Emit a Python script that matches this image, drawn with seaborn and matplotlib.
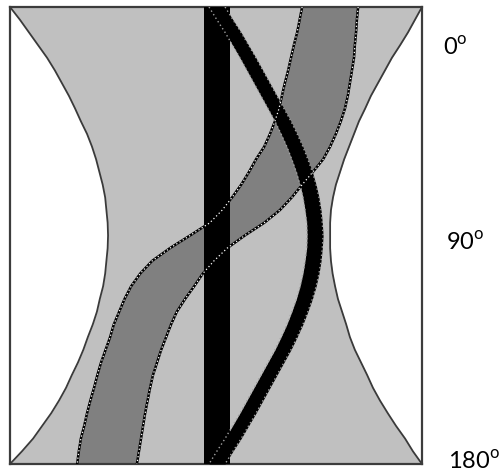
import matplotlib
matplotlib.use("Agg")
import matplotlib.pyplot as plt
import seaborn as sns

angle = [0, 5, 10, 15, 20, 25, 30, 35, 40, 45, 50, 55, 60, 65, 70, 75, 80, 85, 90,
         95, 100, 105, 110, 115, 120, 125, 130, 135, 140, 145, 150, 155, 160, 165,
         170, 175, 180]

# light grey hourglass: left and right boundary (0-100 across the box)
hourglass_left = [0.0, 2.4, 4.6, 6.8, 9.0, 10.9, 12.6, 14.3, 15.8, 17.2, 18.7, 19.9,
                  20.9, 21.7, 22.5, 23.1, 23.4, 23.7, 23.8, 23.7, 23.4, 23.1, 22.6,
                  21.8, 21.1, 20.1, 18.9, 17.8, 16.5, 15.0, 13.6, 11.9, 10.0, 7.8,
                  5.6, 2.9, 0.0]
hourglass_right = [100, 98.3, 96.6, 94.7, 92.7, 91.0, 89.3, 87.6, 86.2, 84.7, 83.5,
                   82.3, 81.1, 80.1, 79.1, 78.4, 77.9, 77.7, 77.7, 77.7, 77.9, 78.3,
                   78.9, 79.6, 80.6, 81.6, 82.5, 83.7, 85.2, 86.7, 88.1, 89.8, 91.7,
                   93.7, 95.9, 97.8, 100]

# black wave
wave_left = [48.3, 50.2, 52.2, 54.0, 55.8, 57.5, 59.2, 60.9, 62.6, 64.3, 65.8, 67.2,
             68.4, 69.5, 70.4, 71.1, 71.6, 72.0, 72.1, 72.0, 71.6, 71.1, 70.4, 69.5,
             68.4, 67.2, 65.8, 64.3, 62.6, 60.9, 59.2, 57.5, 55.8, 54.0, 52.2, 50.2,
             48.3]
wave_right = [52.2, 54.1, 56.1, 57.9, 59.7, 61.4, 63.1, 64.8, 66.5, 68.2, 69.7, 71.1,
              72.3, 73.4, 74.3, 75.0, 75.5, 75.8, 76.0, 75.8, 75.5, 75.0, 74.3, 73.4,
              72.3, 71.1, 69.7, 68.2, 66.5, 64.8, 63.1, 61.4, 59.7, 57.9, 56.1, 54.1,
              52.2]

# dark grey S band
band_left = [70.9, 70.3, 69.7, 68.9, 68.2, 67.5, 66.7, 66.0, 65.3, 64.3, 63.1, 61.7,
             59.7, 58.0, 56.1, 53.9, 51.5, 48.5, 43.7, 38.8, 34.5, 31.6, 29.4, 27.8,
             26.5, 25.2, 24.3, 23.2, 22.1, 21.2, 20.4, 19.5, 18.7, 18.0, 17.2, 16.7,
             16.3]
band_right = [84.5, 84.2, 84.0, 83.7, 83.5, 83.0, 82.5, 82.0, 81.3, 80.3, 79.1, 77.7,
              76.0, 73.5, 70.9, 68.4, 65.5, 61.7, 57.0, 52.7, 49.5, 46.8, 44.7, 42.5,
              40.5, 39.1, 37.9, 36.7, 35.7, 34.7, 34.0, 33.4, 32.8, 32.3, 31.8, 31.3,
              30.8]

# black vertical column
column = (47.1, 53.4)

labels = ["0", "90", "180"]

sns.set_style("white")
plt.rcParams["font.family"] = ["Lato", "DejaVu Sans"]
plt.rcParams["mathtext.fontset"] = "custom"
plt.rcParams["mathtext.rm"] = "Lato"

fig = plt.figure(figsize=(5.02, 4.74), dpi=100)
ax = fig.add_axes([10 / 502, 10 / 474, 412 / 502, 457 / 474])

ax.fill_betweenx(angle, hourglass_left, hourglass_right, color="#c0c0c0", lw=0, zorder=1)
ax.fill_betweenx(angle, band_left, band_right, color="#808080", lw=0, zorder=2)
ax.axvspan(*column, color="black", lw=0, zorder=3)
ax.fill_betweenx(angle, wave_left, wave_right, color="black", lw=0, zorder=4)

for xs in (hourglass_left, hourglass_right):
    sns.lineplot(x=xs, y=angle, orient="y", sort=False, estimator=None,
                 color="#3a3a3a", lw=1.3, ax=ax, zorder=5)

for xs in (band_left, band_right):
    sns.lineplot(x=xs, y=angle, orient="y", sort=False, estimator=None,
                 color="black", lw=1.8, ax=ax, zorder=6)
    sns.lineplot(x=xs, y=angle, orient="y", sort=False, estimator=None,
                 color="white", lw=0.9, linestyle=(0, (1, 2)), ax=ax, zorder=7)

for xs in (wave_left, wave_right):
    sns.lineplot(x=xs, y=angle, orient="y", sort=False, estimator=None,
                 color="#a0a0a0", lw=1.0, linestyle=(0, (1, 2)), ax=ax, zorder=7)

ax.set_xlim(0, 100)
ax.set_ylim(180, 0)
ax.set(xlabel="", ylabel="", xticks=[], yticks=[])
for s in ax.spines.values():
    s.set_visible(True)
    s.set_color("#3c3c3c")
    s.set_linewidth(1.6)

for lab, xpos, ypos in zip(labels, [1.051, 1.058, 1.062], [16, 93, 179]):
    ax.text(xpos, ypos, lab + r"$^{\mathrm{o}}$", transform=ax.get_yaxis_transform(),
            ha="left", va="center", fontsize=17, color="black", clip_on=False)

fig.savefig("out.png", dpi=100)
